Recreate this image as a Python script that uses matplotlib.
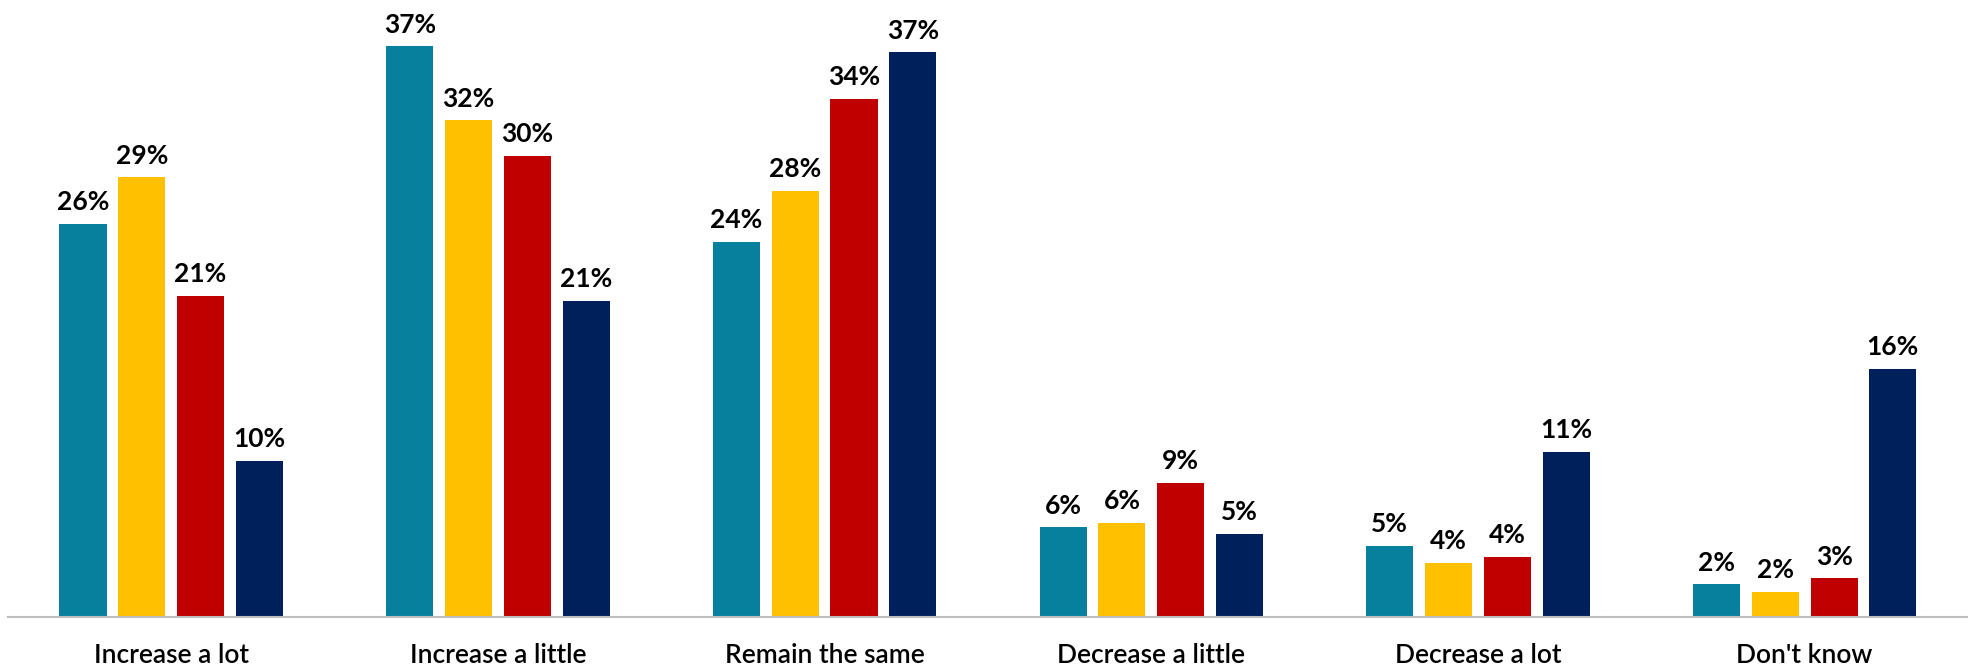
import numpy as np
import matplotlib.pyplot as plt

categories = ['Increase a lot', 'Increase a little', 'Remain the same',
              'Decrease a little', 'Decrease a lot', "Don't know"]
series_a = [25.5, 37.0, 24.3, 5.8, 4.6, 2.1]
series_b = [28.5, 32.2, 27.6, 6.1, 3.5, 1.6]
series_c = [20.8, 29.9, 33.6, 8.7, 3.9, 2.5]
series_d = [10.1, 20.5, 36.6, 5.4, 10.7, 16.1]
labels_a = ['26%', '37%', '24%', '6%', '5%', '2%']
labels_b = ['29%', '32%', '28%', '6%', '4%', '2%']
labels_c = ['21%', '30%', '34%', '9%', '4%', '3%']
labels_d = ['10%', '21%', '37%', '5%', '11%', '16%']
colors = ['#07809E', '#FFC000', '#C00000', '#00205B']


def plot_chart():
    plt.rcParams['font.family'] = ['Lato', 'DejaVu Sans']
    fig = plt.figure(figsize=(19.68, 6.69), dpi=100)
    ax = fig.add_axes([0.004, 0.078, 0.996, 0.922])

    x = np.arange(len(categories))
    width = 0.144
    step = 0.18
    all_vals = [series_a, series_b, series_c, series_d]
    all_labels = [labels_a, labels_b, labels_c, labels_d]
    for i, (vals, labs) in enumerate(zip(all_vals, all_labels)):
        pos = x + (i - 1.5) * step
        bars = ax.bar(pos, vals, width, color=colors[i])
        for b, v, t in zip(bars, vals, labs):
            ax.annotate(t, (b.get_x() + b.get_width() / 2, v),
                        xytext=(0, 7), textcoords='offset points',
                        ha='center', va='bottom', fontsize=19, fontweight='bold')

    ax.set_xlim(-0.5, 5.5)
    ax.set_ylim(0, 40)
    ax.set_xticks(x)
    ax.set_xticklabels(categories, fontsize=19, fontweight='semibold')
    ax.tick_params(axis='x', length=0, pad=19)
    ax.set_yticks([])
    for s in ['top', 'right', 'left']:
        ax.spines[s].set_visible(False)
    ax.spines['bottom'].set_color('#BFBFBF')
    ax.spines['bottom'].set_linewidth(1.5)

    fig.savefig('out.png')


if __name__ == "__main__":
    plot_chart()
